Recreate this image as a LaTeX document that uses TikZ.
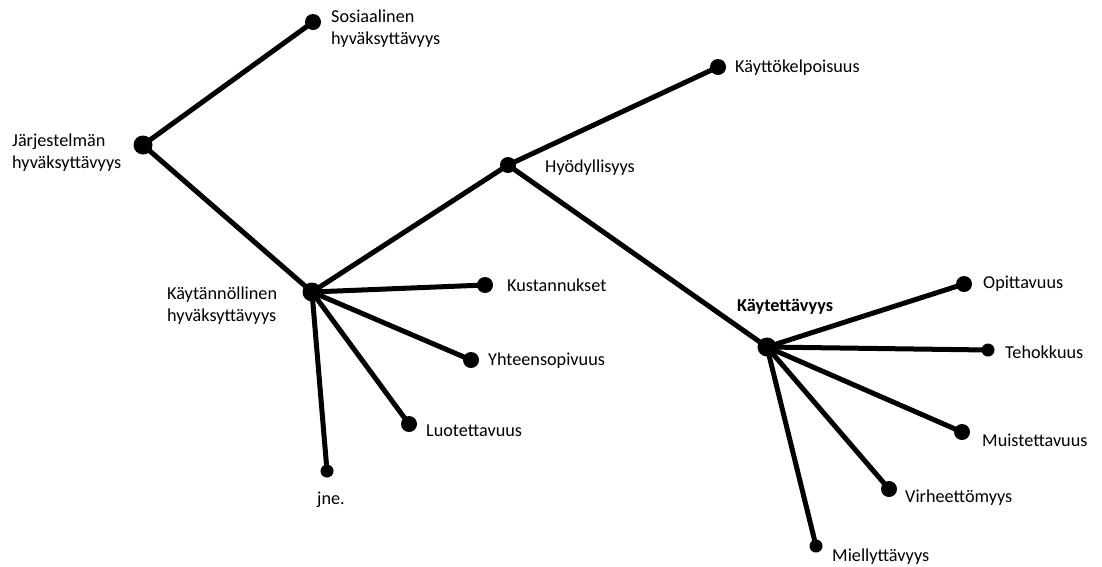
\documentclass[tikz,border=0pt]{standalone}
\usepackage{fontspec}
\setmainfont{Carlito}
\begin{document}
\begin{tikzpicture}[x=1pt,y=-1pt,
  dot/.style={circle,fill=black,inner sep=0pt,minimum size=16pt},
  bigdot/.style={circle,fill=black,inner sep=0pt,minimum size=19pt},
  lbl/.style={anchor=west,inner sep=0pt,align=left,font=\fontsize{18.2}{22}\selectfont},
  edge/.style={line width=5pt,line cap=round}]
\useasboundingbox (0,0) rectangle (1102,566);
% dots
\node[bigdot] (jar) at (143,145) {};
\node[dot] (sos) at (313,22) {};
\node[bigdot] (kay) at (312,292) {};
\node[dot] (hyo) at (508,165) {};
\node[dot] (kel) at (718,67) {};
\node[dot] (kus) at (485,285) {};
\node[dot] (yht) at (471,360) {};
\node[dot] (luo) at (409,424) {};
\node[dot,minimum size=13pt] (jne) at (327,471) {};
\node[bigdot] (kt) at (767,347) {};
\node[dot] (opi) at (964,284) {};
\node[dot,minimum size=13pt] (teh) at (988,350) {};
\node[dot] (mui) at (962,432) {};
\node[dot] (vir) at (889,489) {};
\node[dot,minimum size=13pt] (mie) at (816,546) {};
% edges
\draw[edge] (jar.center) -- (sos.center);
\draw[edge] (jar.center) -- (kay.center);
\draw[edge] (kay.center) -- (hyo.center);
\draw[edge] (hyo.center) -- (kel.center);
\draw[edge] (hyo.center) -- (kt.center);
\draw[edge] (kay.center) -- (kus.center);
\draw[edge] (kay.center) -- (yht.center);
\draw[edge] (kay.center) -- (luo.center);
\draw[edge] (kay.center) -- (jne.center);
\draw[edge] (kt.center) -- (opi.center);
\draw[edge] (kt.center) -- (teh.center);
\draw[edge] (kt.center) -- (mui.center);
\draw[edge] (kt.center) -- (vir.center);
\draw[edge] (kt.center) -- (mie.center);
% labels
\node[lbl] (lsos) at (331,29) {Sosiaalinen\\hyväksyttävyys};
\node[lbl] (ljar) at (12,153) {Järjestelmän\\hyväksyttävyys};
\node[lbl] (lkay) at (167,306) {Käytännöllinen\\hyväksyttävyys};
\node[lbl] (lhyo) at (545,168) {Hyödyllisyys};
\node[lbl] (lkel) at (735,68) {Käyttökelpoisuus};
\node[lbl] (lkus) at (507,285) {Kustannukset};
\node[lbl] (lyht) at (488,361) {Yhteensopivuus};
\node[lbl] (lluo) at (426,431) {Luotettavuus};
\node[lbl] (ljne) at (317,500) {jne.};
\node[lbl,font=\fontsize{18.2}{22}\selectfont\bfseries] (lkt) at (737,307) {Käytettävyys};
\node[lbl] (lopi) at (983,284) {Opittavuus};
\node[lbl] (lteh) at (1005,352) {Tehokkuus};
\node[lbl] (lmui) at (982,440) {Muistettavuus};
\node[lbl] (lvir) at (905,498) {Virheettömyys};
\node[lbl] (lmie) at (832,557) {Miellyttävyys};
\end{tikzpicture}
\end{document}
